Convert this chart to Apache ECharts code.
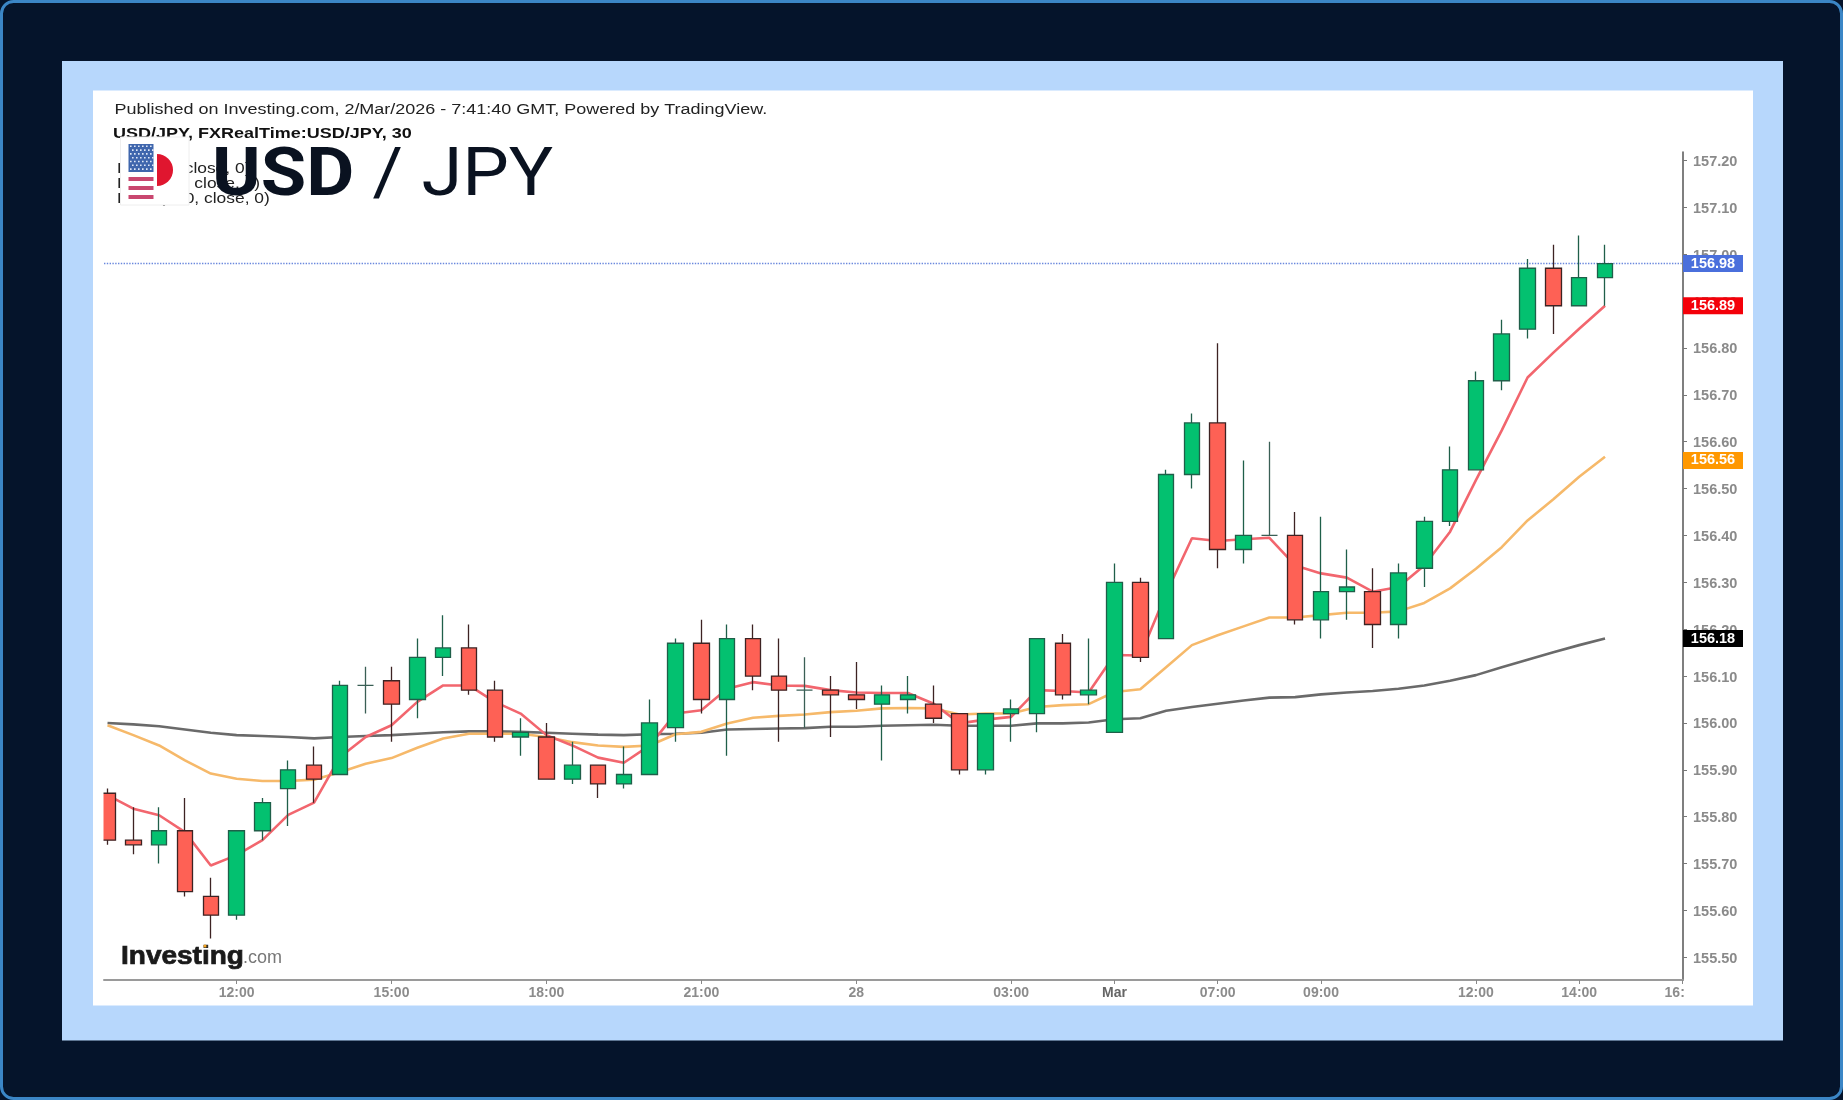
<!DOCTYPE html>
<html>
<head>
<meta charset="utf-8">
<style>html,body{margin:0;padding:0;background:#05142b}#c{width:1843px;height:1100px}</style>
<script src="https://cdn.jsdelivr.net/npm/echarts@6/dist/echarts.min.js"></script>
</head>
<body>
<div id="c"></div>
<script>
const headline = 'Published on Investing.com, 2/Mar/2026 - 7:41:40 GMT, Powered by TradingView.';
const subtitle = 'USD/JPY, FXRealTime:USD/JPY, 30';
const legendLines = ['EMA (5, close, 0)', 'EMA (20, close, 0)', 'EMA (200, close, 0)'];

const opens  = [155.85,155.75,155.74,155.77,155.63,155.59,155.77,155.86,155.91,155.89,156.08,156.09,156.05,156.14,156.16,156.07,155.97,155.97,155.88,155.91,155.87,155.89,155.99,156.17,156.05,156.18,156.10,156.07,156.07,156.06,156.04,156.05,156.04,156.02,155.90,156.02,156.02,156.17,156.06,155.98,156.30,156.18,156.53,156.64,156.37,156.40,156.40,156.22,156.28,156.28,156.21,156.33,156.43,156.54,156.73,156.84,156.97,156.89,156.95];
const closes = [155.75,155.74,155.77,155.64,155.59,155.77,155.83,155.90,155.88,156.08,156.08,156.04,156.14,156.16,156.07,155.97,155.98,155.88,155.91,155.87,155.89,156.00,156.17,156.05,156.18,156.10,156.07,156.07,156.06,156.05,156.06,156.06,156.01,155.90,156.02,156.03,156.18,156.06,156.07,156.30,156.14,156.53,156.64,156.37,156.40,156.40,156.22,156.28,156.29,156.21,156.32,156.43,156.54,156.73,156.83,156.97,156.89,156.95,156.98];
const lows   = [155.74,155.72,155.70,155.63,155.54,155.58,155.75,155.78,155.83,155.89,156.02,155.96,156.01,156.10,156.06,155.96,155.93,155.88,155.87,155.84,155.86,155.89,155.96,156.02,155.93,156.07,155.96,155.99,155.97,156.03,155.92,156.02,156.00,155.89,155.89,155.96,155.98,156.05,156.04,155.98,156.13,156.18,156.50,156.33,156.34,156.40,156.21,156.18,156.22,156.16,156.18,156.29,156.42,156.54,156.71,156.82,156.83,156.89,156.89];
const highs  = [155.86,155.82,155.82,155.84,155.67,155.77,155.84,155.92,155.95,156.09,156.12,156.12,156.18,156.23,156.21,156.09,156.01,156.00,155.96,155.91,155.95,156.05,156.18,156.22,156.21,156.21,156.18,156.14,156.10,156.13,156.08,156.10,156.08,156.02,156.02,156.05,156.18,156.19,156.18,156.34,156.31,156.54,156.66,156.81,156.56,156.60,156.45,156.44,156.37,156.33,156.34,156.44,156.59,156.75,156.86,156.99,157.02,157.04,157.02];
const emaFast = [155.846,155.817,155.803,155.767,155.696,155.718,155.75,155.804,155.83,155.927,155.97,155.995,156.045,156.08,156.08,156.045,156.02,155.974,155.952,155.926,155.915,155.952,156.02,156.027,156.073,156.087,156.08,156.079,156.07,156.065,156.064,156.064,156.041,155.999,156.007,156.013,156.07,156.068,156.065,156.145,156.144,156.276,156.394,156.388,156.392,156.395,156.336,156.319,156.31,156.28,156.29,156.336,156.408,156.518,156.624,156.737,156.79,156.841,156.89];
const emaMid = [155.995,155.974,155.952,155.92,155.892,155.881,155.876,155.876,155.879,155.895,155.913,155.925,155.947,155.967,155.977,155.977,155.977,155.97,155.959,155.952,155.949,155.952,155.976,155.981,155.999,156.011,156.015,156.018,156.023,156.026,156.031,156.032,156.031,156.018,156.02,156.02,156.034,156.038,156.04,156.066,156.072,156.119,156.166,156.187,156.206,156.225,156.225,156.23,156.235,156.235,156.238,156.256,156.287,156.329,156.375,156.432,156.477,156.525,156.568];
const emaSlow = [156.0,155.997,155.993,155.986,155.979,155.974,155.972,155.97,155.967,155.97,155.972,155.974,155.977,155.98,155.982,155.982,155.981,155.979,155.977,155.975,155.974,155.976,155.977,155.979,155.986,155.987,155.988,155.989,155.992,155.992,155.994,155.995,155.996,155.994,155.994,155.994,155.999,155.999,156.001,156.008,156.01,156.026,156.034,156.041,156.048,156.054,156.055,156.061,156.065,156.068,156.073,156.08,156.09,156.102,156.119,156.135,156.151,156.166,156.18];

const xTickIndex = [5,11,17,23,29,35,39,43,47,53,57,61];
const xTickNames = ['12:00','15:00','18:00','21:00','28','03:00','Mar','07:00','09:00','12:00','14:00','16:00'];
const yTicks = [155.5,155.6,155.7,155.8,155.9,156.0,156.1,156.2,156.3,156.4,156.5,156.6,156.7,156.8,156.9,157.0,157.1,157.2];
const priceTags = [156.98,156.89,156.56,156.18];
const tagColors = ['#4a6fdc','#f40009','#ff9800','#000000'];

const candleData = opens.map((o,i)=>[i,o,closes[i],lows[i],highs[i]]);
const indexed = arr => arr.map((v,i)=>[i,v]);
const font = '"Liberation Sans", Arial, sans-serif';

const tagRich = {};
tagColors.forEach((c,i)=>{ tagRich['t'+i] = {backgroundColor:c,color:'#fff',fontFamily:font,fontSize:14.5,fontWeight:'bold',width:60,height:17,lineHeight:17,align:'center'}; });

const flagParts = [
  {type:'rect',shape:{x:120.5,y:137,width:68.5,height:68},style:{fill:'#fff',stroke:'#eeeeee',lineWidth:1}},
  {type:'rect',shape:{x:128.5,y:144,width:25,height:28},style:{fill:'#3f66ad'}},
  {type:'rect',shape:{x:128.5,y:177,width:25,height:4},style:{fill:'#c9476f'}},
  {type:'rect',shape:{x:128.5,y:186,width:25,height:4},style:{fill:'#c9476f'}},
  {type:'rect',shape:{x:128.5,y:195,width:25,height:4},style:{fill:'#c9476f'}},
  {type:'sector',shape:{cx:157,cy:170,r:16,startAngle:-Math.PI/2,endAngle:Math.PI/2},style:{fill:'#e0162f'}}
];
for (let r=0;r<7;r++) for (let c=0;c<6;c++) {
  flagParts.push({type:'rect',shape:{x:130+c*4+(r%2)*2,y:145.5+r*3.8,width:1.6,height:1.6},style:{fill:'#dfe8f7'}});
}

const textEl = (x,y,sx,str,f,fill,extra) => ({type:'text',z:10,silent:true,x:x,y:y,scaleX:sx,
  style:Object.assign({x:0,y:0,text:str,font:f,fill:fill,verticalAlign:'middle'},extra||{})});

const chart = echarts.init(document.getElementById('c'),null,{renderer:'canvas'});
chart.setOption({
  animation:false,
  backgroundColor:'#05142b',
  graphic:{elements:[
    {type:'rect',z:-10,silent:true,shape:{x:1.5,y:1.5,width:1840,height:1097,r:12},style:{fill:'#05142b',stroke:'#3b86c6',lineWidth:3}},
    {type:'rect',z:-9,silent:true,shape:{x:62,y:61,width:1721,height:979.5},style:{fill:'#b7d7fc'}},
    {type:'rect',z:-8,silent:true,shape:{x:93,y:90.5,width:1660,height:915},style:{fill:'#ffffff'}},
    {type:'rect',z:50,silent:true,shape:{x:93,y:152,width:10.5,height:827},style:{fill:'#ffffff'}},
    {type:'rect',z:50,silent:true,shape:{x:1685,y:983,width:30,height:22},style:{fill:'#ffffff'}},
    textEl(114.5,110,1.16,headline,'15.5px '+font,'#222'),
    textEl(113,134,1.2,subtitle,'bold 15px '+font,'#111'),
    textEl(117,169,1.2,legendLines[0],'14.5px '+font,'#222'),
    textEl(117,183.5,1.2,legendLines[1],'14.5px '+font,'#222'),
    textEl(117,199,1.2,legendLines[2],'14.5px '+font,'#222'),
    {type:'group',z:11,silent:true,children:flagParts.map(p=>Object.assign({z:11},p))},
    {type:'text',z:12,silent:true,x:212,y:178,scaleX:1.12,style:{x:0,y:0,text:'{b|USD}{r| / JPY}',verticalAlign:'middle',rich:{
      b:{font:'bold 66px Roboto, '+font,fill:'#0a1220',color:'#0a1220'},
      r:{font:'66px Roboto, '+font,fill:'#0a1220',color:'#0a1220'}}}},
    textEl(121,957,1.12,'Investing','bold 25px '+font,'#1a1a1a',{stroke:'#1a1a1a',lineWidth:0.7}),
    textEl(243,958,1,'.com','18px '+font,'#777'),
    {type:'circle',z:13,silent:true,shape:{cx:205,cy:946,r:1.6},style:{fill:'#f5a623'}}
  ]},
  grid:{left:104,top:152,width:1579,height:828,containLabel:false},
  xAxis:{
    type:'value',min:-0.136,max:61.02,position:'bottom',
    splitLine:{show:false},
    axisLine:{show:true,onZero:false,lineStyle:{color:'#9a9a9a',width:2}},
    axisTick:{show:true,length:4,customValues:xTickIndex,lineStyle:{color:'#888'}},
    axisLabel:{
      show:true,customValues:xTickIndex,margin:6,fontFamily:font,fontSize:14,fontWeight:'bold',color:'#8c8c8c',
      hideOverlap:false,showMinLabel:true,showMaxLabel:true,
      formatter:v=>{const n=xTickNames[xTickIndex.indexOf(v)];return n==='Mar'?'{m|Mar}':n;},
      rich:{m:{fontFamily:font,fontSize:14,fontWeight:'bold',color:'#666'}}
    }
  },
  yAxis:[{
    type:'value',min:155.4516,max:157.218,position:'right',
    splitLine:{show:false},
    axisLine:{show:true,onZero:false,lineStyle:{color:'#555',width:1.5}},
    axisTick:{show:true,length:4,customValues:yTicks,lineStyle:{color:'#777'}},
    axisLabel:{show:true,customValues:yTicks,margin:10,hideOverlap:false,
      formatter:v=>'{v|'+v.toFixed(2)+'}',
      rich:{v:{fontFamily:font,fontSize:14.5,fontWeight:'bold',color:'#8a8a8a',padding:[3,0,0,0]}}}
  },{
    type:'value',min:155.4516,max:157.218,position:'right',z:5,
    splitLine:{show:false},
    axisLine:{show:false,onZero:false},
    axisTick:{show:false},
    axisLabel:{show:true,customValues:priceTags,margin:0,hideOverlap:false,
      formatter:v=>{const i=priceTags.indexOf(v);return '{t'+i+'|'+v.toFixed(2)+'}';},
      rich:tagRich}
  }],
  tooltip:{show:false},
  series:[
    {type:'line',name:'EMA slow',data:indexed(emaSlow),z:2,showSymbol:false,symbol:'none',smooth:false,lineStyle:{color:'#6a6a6a',width:2.6}},
    {type:'line',name:'EMA mid',data:indexed(emaMid),z:2,showSymbol:false,symbol:'none',smooth:false,lineStyle:{color:'#f6b96a',width:2.6}},
    {type:'line',name:'EMA fast',data:indexed(emaFast),z:2,showSymbol:false,symbol:'none',smooth:false,lineStyle:{color:'#f2666e',width:2.6}},
    {type:'candlestick',name:'USD/JPY',data:candleData,z:5,barWidth:16,
      itemStyle:{color:'#03c170',color0:'#fe6155',borderColor:'#1f5f49',borderColor0:'#3d2323',borderColorDoji:'#3a5f55',borderWidth:1.3},
      markLine:{silent:true,symbol:'none',animation:false,label:{show:false},
        lineStyle:{color:'#6a88dd',type:'dotted',width:1.4},
        data:[{yAxis:priceTags[0]}]}
    }
  ]
});
</script>
</body>
</html>
